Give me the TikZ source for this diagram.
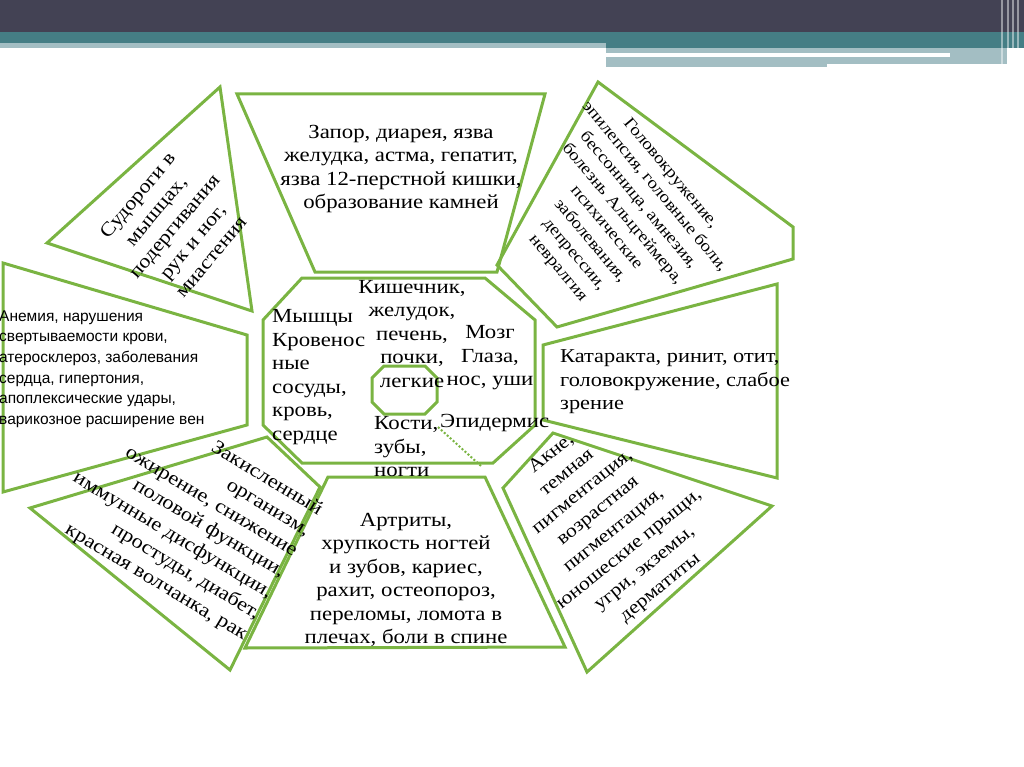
\documentclass[tikz,border=0pt]{standalone}
\usepackage{fontspec}
\setmainfont{Liberation Serif}[FakeStretch=1.14]
\newfontfamily\sansru{Liberation Sans}
\definecolor{leafgreen}{RGB}{122,180,66}
\definecolor{slatebar}{RGB}{67,66,84}
\definecolor{tealbar}{RGB}{69,126,133}
\definecolor{palebar}{RGB}{163,190,195}
\tikzset{
  zone/.style={draw=leafgreen, line width=3pt, line join=miter},
  txt/.style={inner sep=0pt, align=center, font=\fontsize{20}{23.5}\selectfont},
}
\begin{document}
\begin{tikzpicture}[x=1pt,y=-1pt]
\useasboundingbox (0,0) rectangle (1024,767);
% header bars
\fill[slatebar] (0,0) rectangle (1024,32);
\fill[tealbar] (0,32) rectangle (1024,48);
\fill[palebar] (0,43) rectangle (606,48);
\fill[palebar] (606,48) rectangle (1007,64);
\fill[palebar] (606,64) rectangle (827,67);
\fill[white] (606,53.3) rectangle (950,57.3);
\foreach \x in {1002,1008,1013,1018}
  \draw[white, opacity=0.45, line width=1.5pt] (\x,0) -- (\x,66);

% outer ring
\draw[zone] (220,87) -- (252,311) -- (47,243) -- cycle;
\draw[zone] (237,94) -- (545,94) -- (497,272) -- (315,272) -- cycle;
\draw[zone] (598,82) -- (793,227) -- (793,259) -- (557,327) -- (497,265) -- cycle;
\draw[zone] (3,263) -- (247,335) -- (247,425) -- (3,492) -- cycle;
\draw[zone] (543,345) -- (777,284) -- (777,478) -- (543,420) -- cycle;
\draw[zone] (30,508) -- (267,437) -- (320,487) -- (230,670) -- cycle;
\draw[zone] (328,477) -- (485,477) -- (565,647) -- (245,648) -- cycle;
\draw[zone] (553,433) -- (772,506) -- (587,672) -- (503,488) -- cycle;

% center
\draw[zone] (302,278) -- (485,278) -- (535,320) -- (535,425) -- (493,463)
  -- (302,463) -- (263,425) -- (263,320) -- cycle;
\draw[zone] (384,366) -- (425,366) -- (437,378) -- (437,402) -- (425,414)
  -- (384,414) -- (372,402) -- (372,378) -- cycle;
\coordinate (dotA) at (438,427);
\coordinate (dotB) at (481,466);
\draw[leafgreen, line width=2pt, dotted] (dotA) -- (dotB);

% texts
\node[txt] (gut) at (401,169) {Запор, диарея, язва\\желудка, астма, гепатит,\\язва 12-перстной кишки,\\образование камней};
\node[txt, rotate=50, font=\fontsize{19.5}{24}\selectfont] (muscle) at (174,226)
  {Судороги в\\мышцах,\\подергивания\\рук и ног,\\миастения};
\node[txt, rotate=-50, font=\fontsize{16.6}{21}\selectfont] (brain) at (614,221)
  {Головокружение,\\эпилепсия, головные боли,\\бессонница, амнезия,\\болезнь Альцгеймера,\\психические\\заболевания,\\депрессии,\\невралгия};
\node[txt, align=left, anchor=west, font=\sansru\fontsize{15.5}{20.6}\selectfont] (blood) at (-1,369)
  {Анемия, нарушения\\свертываемости крови,\\атеросклероз, заболевания\\сердца, гипертония,\\апоплексические удары,\\варикозное расширение вен};
\node[txt, align=left, anchor=west, font=\fontsize{19.6}{23.5}\selectfont] (eyes) at (560,382)
  {Катаракта, ринит, отит,\\головокружение, слабое\\зрение};
\node[txt, align=right, rotate=-31, font=\fontsize{19.6}{24.3}\selectfont] (acid) at (185,515)
  {Закисленный\\организм,\\ожирение, снижение\\половой функции,\\иммунные дисфункции,\\простуды, диабет,\\красная волчанка, рак};
\node[txt] (bones) at (406,580)
  {Артриты,\\хрупкость ногтей\\и зубов, кариес,\\рахит, остеопороз,\\переломы, ломота в\\плечах, боли в спине};
\node[txt, rotate=39, font=\fontsize{18.8}{24.7}\selectfont] (skin) at (606,521)
  {Акне,\\темная\\пигментация,\\возрастная\\пигментация,\\юношеские прыщи,\\угри,  экземы,\\дерматиты};

\node[txt, align=left, anchor=west] (vessels) at (272,377)
  {Мышцы\\Кровенос\\ные\\сосуды,\\кровь,\\сердце};
\node[txt] (organs) at (412,334) {Кишечник,\\желудок,\\печень,\\почки,\\легкие};
\node[txt] (senses) at (490,358) {Мозг\\Глаза,\\нос, уши};
\node[txt, align=left, anchor=west] (teeth) at (374,447) {Кости,\\зубы,\\ногти};
\node[txt, anchor=west] (epid) at (440,423) {Эпидермис};
\end{tikzpicture}
\end{document}
